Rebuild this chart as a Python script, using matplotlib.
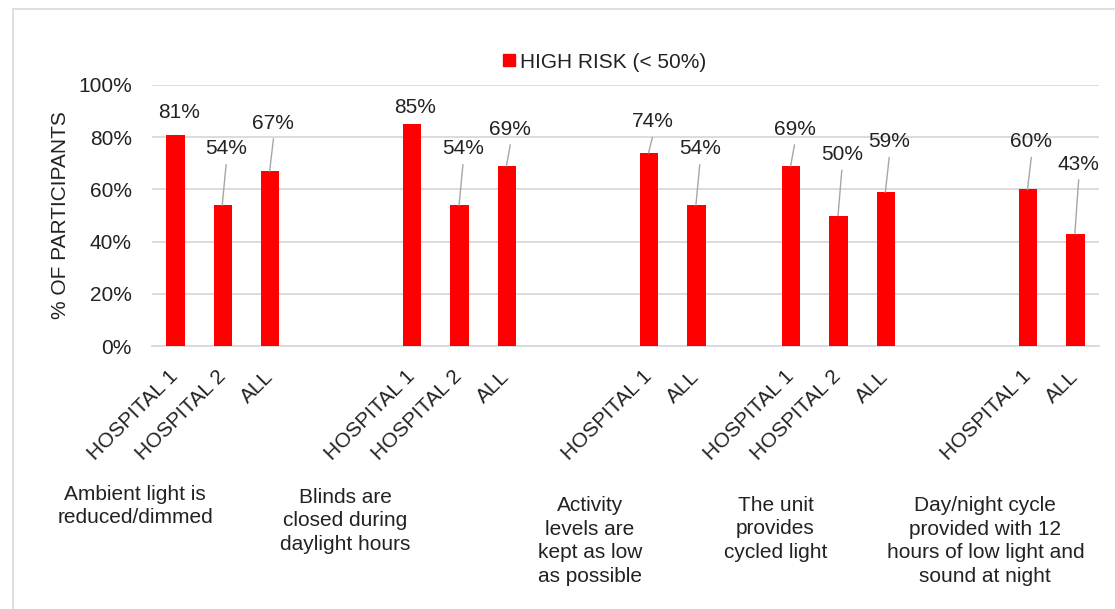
import matplotlib
matplotlib.use("Agg")
import matplotlib.pyplot as plt
import matplotlib.patches as mpatches
from matplotlib.transforms import blended_transform_factory, ScaledTranslation

plt.rcParams['font.family'] = ['Liberation Sans', 'DejaVu Sans']

# chart data (None = empty spacer slot between question groups)
bar_labels = ['HOSPITAL 1', 'HOSPITAL 2', 'ALL', '', '',
              'HOSPITAL 1', 'HOSPITAL 2', 'ALL', '', '',
              'HOSPITAL 1', 'ALL', '',
              'HOSPITAL 1', 'HOSPITAL 2', 'ALL', '', '',
              'HOSPITAL 1', 'ALL']
high_risk = [81, 54, 67, None, None,
             85, 54, 69, None, None,
             74, 54, None,
             69, 50, 59, None, None,
             60, 43]
questions = ['Ambient light is\nreduced/dimmed',
             'Blinds are\nclosed during\ndaylight hours',
             'Activity\nlevels are\nkept as low\nas possible',
             'The unit\nprovides\ncycled light',
             'Day/night cycle\nprovided with 12\nhours of low light and\nsound at night']
series_name = 'HIGH RISK (< 50%)'

# layout: where the value labels sit (in %), and where question texts go
label_y = [89.4, 75.5, 85.4, None, None,
           91.2, 75.5, 83.1, None, None,
           85.9, 75.5, None,
           83.1, 73.4, 78.3, None, None,
           78.3, 69.7]
question_x = [-0.85, 3.58, 8.75, 12.67, 17.1]
question_ypx = [506, 521, 541, 529, 541]

W, H = 1115, 609
TEXT = '#222222'
GRID = '#D9D9D9'
FS = 15

fig = plt.figure(figsize=(W / 100, H / 100), dpi=100)
ax = fig.add_axes([151.7 / W, 1 - 346 / H, (1099 - 151.7) / W, (346 - 85) / H])

# outer chart border (only top and left edges are visible in the crop)
fig.patches.append(mpatches.Rectangle((12.5 / W, -0.1), 1.2, 1 - 9 / H + 0.1,
                                      transform=fig.transFigure, fill=False,
                                      edgecolor=GRID, linewidth=1.2))

xs = [i for i, v in enumerate(high_risk) if v is not None]
vals = [high_risk[i] / 100 for i in xs]
ax.bar(xs, vals, width=0.39, color='#FF0000', zorder=3, label=series_name)

# value labels with leader lines
for i in xs:
    v = high_risk[i] / 100
    ly = label_y[i] / 100
    lx = i + 0.07
    ax.text(lx, ly, f'{high_risk[i]}%', ha='center', va='center',
            fontsize=FS, color=TEXT, zorder=5)
    if (ly - 0.061) - v > 0.03:
        ax.plot([lx, i - 0.01], [ly - 0.061, v], color='#A6A6A6',
                linewidth=1.0, zorder=4)

ax.set_xlim(-0.5, len(bar_labels) - 0.5)
ax.set_ylim(0, 1)
ax.set_yticks([0, 0.2, 0.4, 0.6, 0.8, 1.0])
ax.set_yticklabels([f'{int(t * 100)}%' for t in ax.get_yticks()])
ax.yaxis.grid(True, color=GRID, linewidth=1.3, zorder=0)
ax.set_axisbelow(True)
for s in ['top', 'right', 'left']:
    ax.spines[s].set_visible(False)
ax.spines['bottom'].set_color(GRID)
ax.spines['bottom'].set_linewidth(1.3)
ax.tick_params(axis='y', length=0, pad=14.4, labelsize=FS, labelcolor=TEXT)

ax.set_xticks(range(len(bar_labels)))
ax.set_xticklabels(bar_labels)
ax.tick_params(axis='x', length=0, pad=15, labelsize=FS, labelcolor=TEXT)
shift = ScaledTranslation(-7 / 100, 0, fig.dpi_scale_trans)
for lab in ax.get_xticklabels():
    lab.set_rotation(45)
    lab.set_ha('right')
    lab.set_rotation_mode('anchor')
    lab.set_transform(lab.get_transform() + shift)

fig.text(60 / W, 1 - 215.5 / H, '% OF PARTICIPANTS', rotation=90,
         ha='center', va='center', fontsize=FS, color=TEXT)

# question texts under each group
tr = blended_transform_factory(ax.transData, fig.transFigure)
for q, qx, qy in zip(questions, question_x, question_ypx):
    ax.text(qx, 1 - qy / H, q, transform=tr, ha='center', va='center',
            fontsize=FS, color=TEXT, linespacing=1.32, clip_on=False)

fig.legend(handles=[mpatches.Patch(color='#FF0000', label=series_name)],
           loc='center', bbox_to_anchor=(604.5 / W, 1 - 62 / H),
           frameon=False, fontsize=FS, handlelength=0.55, handleheight=0.55,
           handletextpad=0.25, labelcolor=TEXT)

fig.savefig('out.png', dpi=100)
